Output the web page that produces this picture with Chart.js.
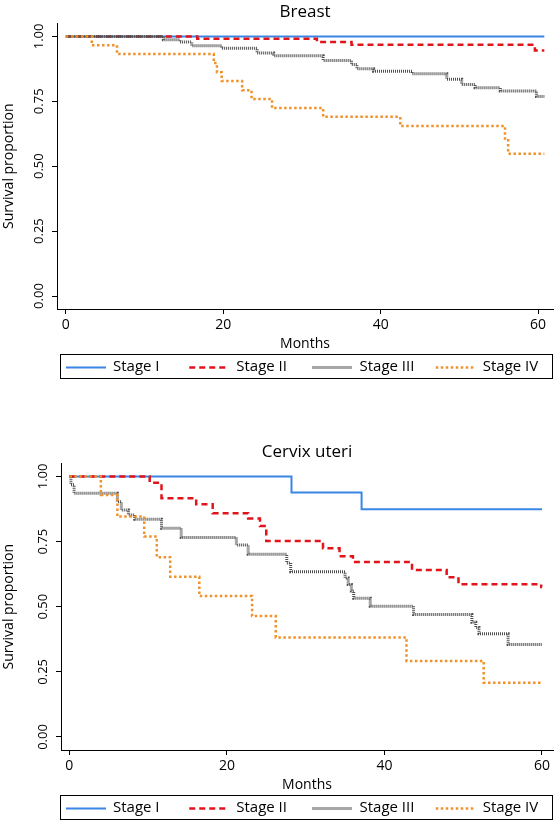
<!DOCTYPE html>
<html>
<head>
<meta charset="utf-8">
<script src="https://cdn.jsdelivr.net/npm/chart.js@4.4.1/dist/chart.umd.min.js"></script>
<style>
  body { margin: 0; background: #fff; }
  .panel { position: absolute; left: 0; }
</style>
</head>
<body>
<div class="panel" style="top:0"><canvas id="breastChart" width="555" height="380"></canvas></div>
<div class="panel" style="top:440px"><canvas id="cervixChart" width="555" height="381"></canvas></div>
<script>
const stageNames = ["Stage I", "Stage II", "Stage III", "Stage IV"];
const xTicks = [0, 20, 40, 60];
const yTicks = [0, 0.25, 0.5, 0.75, 1];

// Breast: month of each step and survival proportion from that month on
const breastMonthsI = [0, 60.8];
const breastSurvI = [1, 1];
const breastMonthsII = [0, 16.7, 31.9, 36.3, 59.6, 60.8];
const breastSurvII = [1, 0.991, 0.978, 0.968, 0.946, 0.946];
const breastMonthsIII = [0, 12.4, 14.5, 16.0, 19.8, 24.3, 26.4, 32.7, 36.3, 37.0, 39.1, 44.0, 48.4, 50.3, 52.0, 55.2, 59.8, 60.8];
const breastSurvIII = [1, 0.987, 0.978, 0.964, 0.954, 0.936, 0.925, 0.907, 0.892, 0.875, 0.866, 0.856, 0.835, 0.815, 0.802, 0.790, 0.768, 0.768];
const breastMonthsIV = [0, 3.3, 6.5, 18.8, 19.2, 19.8, 22.4, 23.6, 26.2, 32.7, 42.5, 55.8, 56.2, 60.8];
const breastSurvIV = [1, 0.966, 0.932, 0.897, 0.862, 0.828, 0.793, 0.759, 0.724, 0.690, 0.655, 0.600, 0.548, 0.548];

// Cervix uteri
const cervixMonthsI = [0, 28.2, 37.1, 60];
const cervixSurvI = [1, 0.938, 0.874, 0.874];
const cervixMonthsII = [0, 10.2, 11.7, 16.1, 18.2, 22.7, 24.2, 25.0, 32.2, 34.3, 36.0, 43.5, 47.9, 49.4, 59.9, 60];
const cervixSurvII = [1, 0.976, 0.916, 0.893, 0.859, 0.839, 0.810, 0.752, 0.724, 0.694, 0.672, 0.641, 0.613, 0.586, 0.576, 0.576];
const cervixMonthsIII = [0, 0.2, 0.6, 6.1, 6.6, 7.5, 8.3, 11.7, 14.2, 21.2, 22.7, 27.6, 28.1, 35.0, 35.4, 35.8, 36.1, 38.2, 43.7, 51.1, 51.6, 52.0, 55.7, 60];
const cervixSurvIII = [1, 0.968, 0.935, 0.903, 0.871, 0.852, 0.836, 0.801, 0.766, 0.737, 0.701, 0.668, 0.634, 0.610, 0.585, 0.560, 0.532, 0.502, 0.470, 0.440, 0.420, 0.396, 0.355, 0.355];
const cervixMonthsIV = [0, 4.0, 6.1, 9.5, 11.1, 12.8, 16.5, 23.2, 26.2, 42.8, 52.6, 60];
const cervixSurvIV = [1, 0.929, 0.846, 0.769, 0.690, 0.615, 0.541, 0.464, 0.382, 0.292, 0.208, 0.208];

const stageColors = ["#3a86e4", "#e1141c", "#4f4f4f", "#f0922c"];
const stageDashes = [[], [6, 4], [1, 1], [2.5, 2.5]];
const stageWidths = [2, 2.5, 3, 2.5];

Chart.defaults.font.family = "'Open Sans', sans-serif";
Chart.defaults.color = "#000";

// legend in a box under the plot, like Stata does it
const boxLegend = {
  id: "boxLegend",
  afterDraw(chart) {
    const ctx = chart.ctx;
    const left = 60;
    const right = chart.chartArea.right;
    const top = chart.height - 26;
    ctx.save();
    ctx.strokeStyle = "#000";
    ctx.lineWidth = 1;
    ctx.setLineDash([]);
    ctx.strokeRect(left + 0.5, top + 0.5, right - left - 1, 24);
    const colW = (right - left) / 4;
    const midY = top + 13;
    chart.data.datasets.forEach((ds, i) => {
      const x0 = left + 6 + i * colW;
      ctx.beginPath();
      ctx.setLineDash(ds.borderDash);
      ctx.strokeStyle = ds.borderColor;
      ctx.lineWidth = ds.borderWidth;
      ctx.moveTo(x0, midY + 0.5);
      ctx.lineTo(x0 + 40, midY + 0.5);
      ctx.stroke();
      ctx.setLineDash([]);
      ctx.fillStyle = "#000";
      ctx.font = "15px 'Open Sans'";
      ctx.textBaseline = "middle";
      ctx.fillText(ds.label, x0 + 47, midY);
    });
    ctx.restore();
  }
};

function survivalChart(canvasId, title, monthsList, survList, xMin, xMax, yAxisWidth) {
  const datasets = stageNames.map((name, i) => ({
    label: name,
    data: monthsList[i].map((m, j) => ({ x: m, y: survList[i][j] })),
    borderColor: stageColors[i],
    borderWidth: stageWidths[i],
    borderDash: stageDashes[i],
    stepped: "before",
    pointRadius: 0,
    fill: false,
    order: 4 - i
  }));

  return new Chart(document.getElementById(canvasId), {
    type: "line",
    data: { datasets },
    plugins: [boxLegend],
    options: {
      responsive: false,
      animation: false,
      layout: { padding: { left: 0, right: 2, top: 0, bottom: 26 } },
      plugins: {
        legend: { display: false },
        tooltip: { enabled: false },
        title: {
          display: true,
          text: title,
          fullSize: false,
          font: { size: 17, weight: "normal" },
          padding: { top: 2, bottom: 1 }
        }
      },
      scales: {
        x: {
          type: "linear",
          min: xMin,
          max: xMax,
          afterBuildTicks: s => { s.ticks = xTicks.map(v => ({ value: v })); },
          afterFit: s => { s.height = 45; },
          ticks: { font: { size: 14 }, padding: 3, maxRotation: 0 },
          grid: { display: true, drawOnChartArea: false, drawTicks: true, tickLength: 5, color: "#000" },
          border: { display: true, color: "#000", width: 1 },
          title: { display: true, text: "Months", font: { size: 14 }, padding: { top: 0, bottom: 2 } }
        },
        y: {
          min: -0.05,
          max: 1.05,
          afterBuildTicks: s => { s.ticks = yTicks.map(v => ({ value: v })); },
          afterFit: s => { s.width = yAxisWidth; },
          ticks: {
            font: { size: 13 },
            padding: 0,
            minRotation: 90,
            maxRotation: 90,
            crossAlign: "center",
            callback: v => Number(v).toFixed(2)
          },
          grid: { display: true, drawOnChartArea: false, drawTicks: true, tickLength: 5, color: "#000" },
          border: { display: true, color: "#000", width: 1 },
          title: { display: true, text: "Survival proportion", font: { size: 14 }, padding: { top: 1, bottom: 0 } }
        }
      }
    }
  });
}

survivalChart("breastChart", "Breast",
  [breastMonthsI, breastMonthsII, breastMonthsIII, breastMonthsIV],
  [breastSurvI, breastSurvII, breastSurvIII, breastSurvIV],
  -1.12, 61.9, 57);

survivalChart("cervixChart", "Cervix uteri",
  [cervixMonthsI, cervixMonthsII, cervixMonthsIII, cervixMonthsIV],
  [cervixSurvI, cervixSurvII, cervixSurvIII, cervixSurvIV],
  -1.06, 61.4, 61);
</script>
</body>
</html>
